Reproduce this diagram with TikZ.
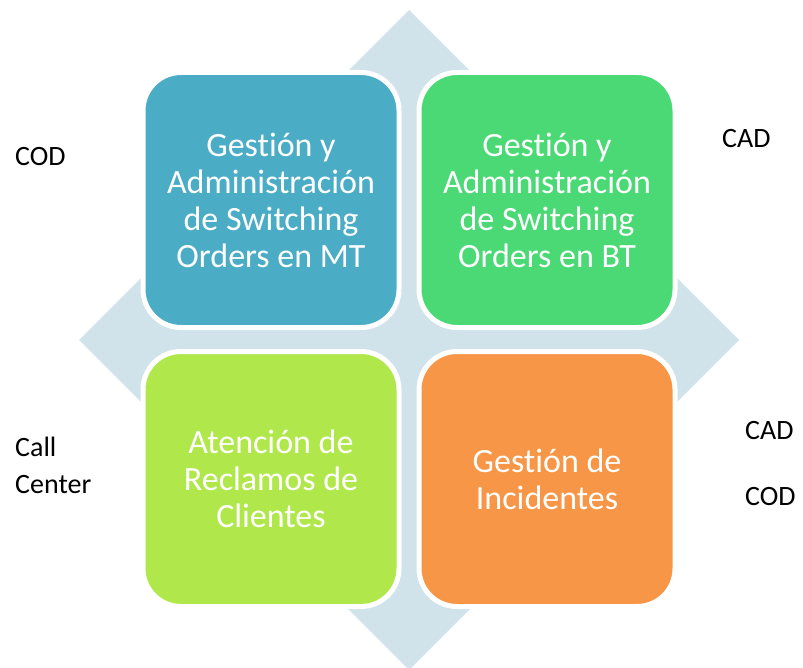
\documentclass[tikz,border=0pt]{standalone}
\usepackage{fontspec}
\setmainfont{Carlito}[Ligatures={NoCommon,NoContextual,NoRare,NoDiscretionary},Contextuals=NoAlternate]
\usetikzlibrary{positioning}
\definecolor{aqua1}{HTML}{4BACC6}
\definecolor{green1}{HTML}{4AD975}
\definecolor{lime1}{HTML}{B0E84C}
\definecolor{orange1}{HTML}{F79646}
\definecolor{grey1}{HTML}{D0E2EA}
\tikzset{
quad/.style={rounded corners=38pt,draw=white,line width=5pt,minimum width=256pt,minimum height=255pt,
  text=white,align=center,inner sep=0pt,font=\fontsize{34}{37}\selectfont},
side/.style={anchor=west,align=left,inner sep=0pt,font=\fontsize{28}{37}\selectfont}
}
\begin{document}
\begin{tikzpicture}[x=1pt,y=-1pt]

\useasboundingbox (0,0) rectangle (803,668);

% diamond behind the four boxes
\fill[grey1] (409,10) -- (739,340) -- (409,670) -- (79,340) -- cycle;

\node[quad,fill=aqua1] (mt) at (271,200) {Gest\kern0ptión y\\Administrac\kern0ptión\\de Switching\\Orders en MT};
\node[quad,fill=green1] (bt) at (547,200) {Gest\kern0ptión y\\Administrac\kern0ptión\\de Switching\\Orders en BT};
\node[quad,fill=lime1] (recl) at (271,479) {Atención de\\Reclamos de\\Clientes};
\node[quad,fill=orange1] (inc) at (547,479) {Gest\kern0ptión de\\Incidentes};

\node[side] (codmt) at (15,157) {COD};
\node[side] (cadbt) at (722,139) {CAD};
\node[side] (callc) at (15,465) {Call\\Center};
\node[side] (cadinc) at (745,431) {CAD};
\node[side] (codinc) at (745,497) {COD};

\end{tikzpicture}
\end{document}
